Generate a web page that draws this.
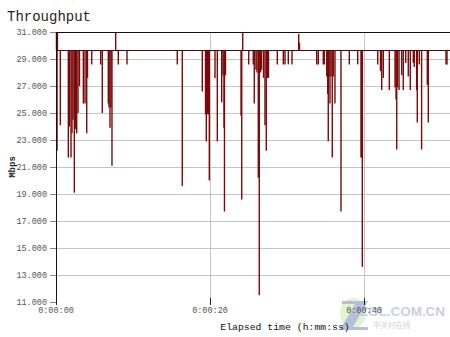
<!DOCTYPE html>
<html>
<head>
<meta charset="utf-8">
<script src="https://cdn.jsdelivr.net/npm/d3@7"></script>
<style>
  body { margin: 0; background: #fff; }
  svg { display: block; }
</style>
</head>
<body>
<div id="chart"></div>
<script>
const width = 450;
const height = 337;
const margin = { left: 56, right: 0, top: 32, bottom: 35 };

const yTicks = [31, 29, 27, 25, 23, 21, 19, 17, 15, 13, 11];
const xTicks = [0, 20, 40];
const xTickLabels = ["0:00:00", "0:00:20", "0:00:40"];
const baseline = 29.67;

// drops (and a few peaks) away from the steady level, seconds -> Mbps
const dipTimes = [
  0.06, 0.19, 0.56, 1.6, 1.75, 1.95, 2.08, 2.21, 2.38, 2.53, 2.69, 2.86, 3.05,
  3.55, 3.77, 3.99, 4.09, 4.64, 5.81, 6.01, 6.79, 6.88, 7.01, 7.14, 7.27, 7.75,
  8.09, 9.22, 15.75, 16.4, 19.0, 19.42, 19.52, 19.68, 19.81, 19.91, 20.65, 20.95,
  21.52, 21.69, 21.82, 21.88, 22.01, 24.03, 24.12, 24.25, 25.03, 25.62, 25.75,
  25.97, 26.1, 26.27, 26.4, 26.56, 26.69, 26.95, 27.14, 27.31, 27.47, 27.6,
  28.74, 29.52, 29.74, 30.17, 30.65, 31.52, 31.62, 33.86, 34.06, 34.71, 34.84,
  35.16, 35.29, 35.36, 35.45, 35.58, 35.71, 35.88, 36.01, 36.23, 37.01, 38.09,
  39.18, 39.61, 39.7, 39.78, 41.78, 42.14, 42.3, 42.51, 43.29, 44.03, 44.16,
  44.25, 44.35, 44.55, 44.9, 45.1, 45.42, 45.75, 46.01, 46.4, 46.53, 46.84,
  46.92, 47.18, 47.48, 48.22, 48.35, 50.65, 50.78,
];
const dipValues = [
  31, 31, 24.1, 21.7, 24.0, 21.7, 23.5, 24.5, 19.1, 23.8, 23.5, 25.0, 27.0,
  25.7, 25.7, 23.5, 27.6, 28.6, 28.6, 25.0, 25.7, 25.4, 23.9, 25.4, 21.1, 31,
  28.6, 28.6, 28.6, 19.6, 26.6, 24.9, 22.9, 24.9, 24.9, 20.0, 27.6, 22.9,
  25.8, 27.8, 23.9, 17.7, 27.8, 24.8, 18.6, 31, 28.6, 28.6, 25.7,
  28.2, 28.0, 20.2, 11.5, 28.0, 28.2, 27.6, 24.1, 22.2, 27.6, 27.6,
  28.6, 28.6, 28.6, 28.6, 28.6, 30.85, 30.2, 28.6, 28.6, 28.6, 28.6,
  27.7, 26.4, 22.9, 27.7, 25.7, 27.7, 21.7, 27.7, 25.7, 17.7, 28.6,
  28.6, 21.7, 21.7, 13.6, 28.6, 28.1, 26.7, 27.6, 26.7, 26.9, 26.0,
  22.3, 26.9, 26.7, 27.8, 26.7, 28.7, 27.7, 26.7, 28.7, 28.4, 26.7,
  24.3, 28.6, 22.3, 27.1, 24.3, 28.6, 28.6,
];
const startDrop = { t: 0.0, v: 22.2 };

const x = d3
  .scaleLinear()
  .domain([0, (width - margin.left) / 7.7])
  .range([margin.left, width - margin.right]);

const y = d3
  .scaleLinear()
  .domain([11, 31])
  .range([height - margin.bottom, margin.top]);

const svg = d3
  .select("#chart")
  .append("svg")
  .attr("width", width)
  .attr("height", height);

// title
svg
  .append("text")
  .attr("x", 7)
  .attr("y", 21)
  .attr("font-family", "Liberation Mono, monospace")
  .attr("font-size", 14)
  .attr("fill", "#2a2418")
  .text("Throughput");

// horizontal grid
svg
  .append("g")
  .selectAll("line")
  .data(yTicks.filter((d) => d !== 31 && d !== 11))
  .join("line")
  .attr("x1", margin.left)
  .attr("x2", width)
  .attr("y1", (d) => y(d) + 0.5)
  .attr("y2", (d) => y(d) + 0.5)
  .attr("stroke", "#c4c4c4");

// vertical grid
svg
  .append("g")
  .selectAll("line")
  .data(xTicks.slice(1))
  .join("line")
  .attr("x1", (d) => Math.round(x(d)) + 0.5)
  .attr("x2", (d) => Math.round(x(d)) + 0.5)
  .attr("y1", margin.top)
  .attr("y2", height - margin.bottom)
  .attr("stroke", "#c4c4c4");

// watermark (drawn under the axis labels)
const wm = svg.append("g").attr("opacity", 0.7);
wm.append("ellipse")
  .attr("cx", 353)
  .attr("cy", 313)
  .attr("rx", 13)
  .attr("ry", 15)
  .attr("fill", "#d9edb8");
wm.append("path")
  .attr("d", "M342,301 L368,301 L353,327 L368,327 L368,330 L340,330 L355,304 L342,304 Z")
  .attr("fill", "#93a9c9");
wm.append("text")
  .attr("x", 360)
  .attr("y", 316)
  .attr("font-family", "Arial, Liberation Sans, sans-serif")
  .attr("font-size", 13)
  .attr("font-weight", "bold")
  .attr("textLength", 85)
  .attr("lengthAdjust", "spacingAndGlyphs")
  .attr("fill", "#aebdd3")
  .text("ZOL.COM.CN");
wm.append("text")
  .attr("x", 373)
  .attr("y", 328)
  .attr("font-family", "Noto Sans CJK SC, sans-serif")
  .attr("font-size", 7.5)
  .attr("fill", "#c4c4c4")
  .text("中关村在线");

// y tick marks + labels
const yAxis = svg.append("g");
yAxis
  .selectAll("line")
  .data(yTicks)
  .join("line")
  .attr("x1", margin.left - 6)
  .attr("x2", margin.left)
  .attr("y1", (d) => y(d) + 0.5)
  .attr("y2", (d) => y(d) + 0.5)
  .attr("stroke", "#888");
yAxis
  .selectAll("text")
  .data(yTicks)
  .join("text")
  .attr("x", margin.left - 9)
  .attr("y", (d) => y(d) + 3)
  .attr("text-anchor", "end")
  .attr("font-family", "Liberation Mono, monospace")
  .attr("font-size", 8.5)
  .attr("fill", "#555")
  .text((d) => d3.format(".3f")(d));

// x tick marks + labels
const xAxis = svg.append("g");
xAxis
  .selectAll("line")
  .data(xTicks)
  .join("line")
  .attr("x1", (d) => Math.round(x(d)) + 0.5)
  .attr("x2", (d) => Math.round(x(d)) + 0.5)
  .attr("y1", height - margin.bottom - 4)
  .attr("y2", height - margin.bottom + 3)
  .attr("stroke", "#222");
xAxis
  .selectAll("text")
  .data(xTicks)
  .join("text")
  .attr("x", (d) => x(d))
  .attr("y", height - margin.bottom + 11)
  .attr("text-anchor", "middle")
  .attr("font-family", "Liberation Mono, monospace")
  .attr("font-size", 8.5)
  .attr("fill", "#555")
  .text((d, i) => xTickLabels[i]);

// axis titles
svg
  .append("text")
  .attr("transform", `translate(15, ${y(21)}) rotate(-90)`)
  .attr("text-anchor", "middle")
  .attr("font-family", "Liberation Mono, monospace")
  .attr("font-size", 9)
  .attr("font-weight", "bold")
  .attr("fill", "#222")
  .text("Mbps");

svg
  .append("text")
  .attr("x", 285)
  .attr("y", 330)
  .attr("text-anchor", "middle")
  .attr("font-family", "Liberation Mono, monospace")
  .attr("font-size", 9.8)
  .attr("fill", "#111")
  .text("Elapsed time (h:mm:ss)");

// series
const plot = svg.append("g");
const seriesColor = "#7a0a0a";

plot
  .append("line")
  .attr("x1", x(startDrop.t) + 1)
  .attr("x2", x(startDrop.t) + 1)
  .attr("y1", y(31))
  .attr("y2", y(startDrop.v))
  .attr("stroke", seriesColor)
  .attr("stroke-width", 1.5);

plot
  .selectAll(".dip")
  .data(dipTimes.map((t, i) => ({ t, v: dipValues[i] })))
  .join("line")
  .attr("class", "dip")
  .attr("x1", (d) => x(d.t))
  .attr("x2", (d) => x(d.t))
  .attr("y1", y(baseline))
  .attr("y2", (d) => y(d.v))
  .attr("stroke", seriesColor)
  .attr("stroke-width", 1.4);

plot
  .append("line")
  .attr("x1", margin.left)
  .attr("x2", width)
  .attr("y1", Math.round(y(baseline)) + 0.5)
  .attr("y2", Math.round(y(baseline)) + 0.5)
  .attr("stroke", "#4a0505")
  .attr("stroke-width", 1.2);

// frame: top border and y axis
svg
  .append("line")
  .attr("x1", margin.left)
  .attr("x2", width)
  .attr("y1", margin.top + 0.5)
  .attr("y2", margin.top + 0.5)
  .attr("stroke", "#111");
svg
  .append("line")
  .attr("x1", margin.left + 0.5)
  .attr("x2", margin.left + 0.5)
  .attr("y1", margin.top)
  .attr("y2", height - margin.bottom)
  .attr("stroke", "#111");
</script>
</body>
</html>
